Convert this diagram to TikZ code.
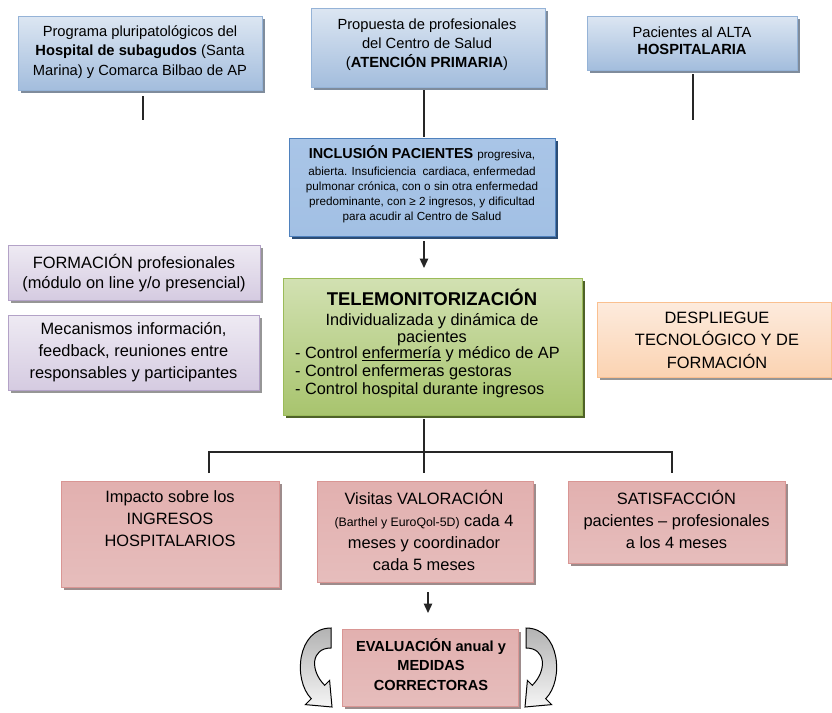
\documentclass[tikz,border=0pt]{standalone}
\usepackage{fontspec}
\setmainfont{Liberation Sans}
\usetikzlibrary{shadows,arrows.meta}
\definecolor{blueTop}{HTML}{DCE6F2}
\definecolor{blueBot}{HTML}{A3BDDD}
\definecolor{blueBorder}{HTML}{95B3D7}
\definecolor{blueShadow}{HTML}{7F8C9C}
\definecolor{inclTop}{HTML}{A9C5E7}
\definecolor{inclMid}{HTML}{6797D1}
\definecolor{inclBot}{HTML}{A2C0E4}
\definecolor{inclBorder}{HTML}{4F81BD}
\definecolor{inclShadow}{HTML}{2C4D75}
\definecolor{greenTop}{HTML}{D2E1B2}
\definecolor{greenBot}{HTML}{A8C46E}
\definecolor{greenBorder}{HTML}{9BBB59}
\definecolor{greenShadow}{HTML}{4F6228}
\definecolor{purpTop}{HTML}{EEEAF3}
\definecolor{purpBot}{HTML}{D5CBE1}
\definecolor{purpBorder}{HTML}{B3A2C7}
\definecolor{grayShadow}{HTML}{969696}
\definecolor{orTop}{HTML}{FDEBDD}
\definecolor{orBot}{HTML}{FBD3B2}
\definecolor{orBorder}{HTML}{FAC090}
\definecolor{pinkTop}{HTML}{E2B0AF}
\definecolor{pinkMid}{HTML}{F3DEDE}
\definecolor{pinkBot}{HTML}{E6BDBC}
\definecolor{pinkBorder}{HTML}{D99694}
\definecolor{pinkShadow}{HTML}{9D8C8C}
\tikzset{
  bx/.style={rectangle, inner sep=0pt, line width=1pt},
  shad/.style={drop shadow={fill=#1, opacity=1, shadow xshift=3pt, shadow yshift=-3pt}},
  bluebox/.style={bx, draw=blueBorder, top color=blueTop, bottom color=blueBot, shad=blueShadow},
  inclbox/.style={bx, draw=inclBorder, top color=inclTop, middle color=inclMid, bottom color=inclBot, shad=inclShadow},
  greenbox/.style={bx, draw=greenBorder, top color=greenTop, bottom color=greenBot, shad=greenShadow},
  purpbox/.style={bx, draw=purpBorder, top color=purpTop, bottom color=purpBot, shad=grayShadow},
  orbox/.style={bx, draw=orBorder, top color=orTop, bottom color=orBot, shad=grayShadow},
  pinkbox/.style={bx, draw=pinkBorder, top color=pinkTop, middle color=pinkMid, bottom color=pinkBot, shad=pinkShadow},
  txt/.style={align=center, inner sep=0pt, text=black},
  conn/.style={draw=black!85, line width=1.3pt},
  arr/.style={conn, -{Triangle[width=8.5pt,length=9.5pt]}},
  curvarr/.style={draw=black, line width=1pt, top color=gray!60, bottom color=gray!8},
}
\begin{document}
\begin{tikzpicture}[x=1pt,y=-1pt]
\fill[white] (0,0) rectangle (832,712);
\useasboundingbox (0,0) rectangle (832,712);

% top boxes
\node[bluebox, minimum width=244pt, minimum height=74pt] (tlbox) at (140,53) {};
\node[txt, font=\fontsize{14.7pt}{19.5pt}\selectfont] (tltxt) at (140,52)
  {Programa pluripatológicos del\\\textbf{Hospital de subagudos} (Santa\\Marina) y Comarca Bilbao de AP};
\node[bluebox, minimum width=234pt, minimum height=79pt] (tcbox) at (428,47.5) {};
\node[txt, font=\fontsize{14.7pt}{19pt}\selectfont] (tctxt) at (427,44.5)
  {Propuesta de profesionales\\del Centro de Salud\\(\textbf{ATENCIÓN PRIMARIA})};
\node[bluebox, minimum width=210pt, minimum height=54pt] (trbox) at (692,43) {};
\node[txt, font=\fontsize{14.7pt}{17pt}\selectfont] (trtxt) at (692,40.5)
  {Pacientes al ALTA\\\textbf{HOSPITALARIA}};

% inclusion
\node[inclbox, minimum width=266pt, minimum height=98pt] (incl) at (422,187) {};
\node[txt] (incltit) at (422,153)
  {\fontsize{14.4pt}{15pt}\selectfont\textbf{INCLUSIÓN PACIENTES} {\fontsize{11.7pt}{15pt}\selectfont progresiva,}};
\node[txt, font=\fontsize{11.7pt}{15pt}\selectfont] (incltxt) at (422,195)
  {abierta. Insuficiencia\ \ cardiaca, enfermedad\\pulmonar crónica, con o sin otra enfermedad\\predominante, con ≥ 2 ingresos, y dificultad\\para acudir al Centro de Salud};

% telemonitorizacion
\node[greenbox, minimum width=299pt, minimum height=137pt] (tele) at (432.5,346.5) {};
\node[txt, font=\fontsize{18.5pt}{20pt}\selectfont\bfseries] (teletit) at (432,297) {TELEMONITORIZACIÓN};
\node[txt, font=\fontsize{16.3pt}{17pt}\selectfont] (telesub) at (432,329.5)
  {Individualizada y dinámica de\\pacientes};
\node[txt, align=left, anchor=west, font=\fontsize{16.3pt}{18pt}\selectfont] (telelist) at (295,372)
  {- Control \underline{enfermería} y médico de AP\\- Control enfermeras gestoras\\- Control hospital durante ingresos};

% side boxes
\node[purpbox, minimum width=252pt, minimum height=55pt] (form) at (134,272.5) {};
\node[txt, font=\fontsize{16.4pt}{20pt}\selectfont] (formtxt) at (134,273)
  {FORMACIÓN profesionales\\(módulo on line y/o presencial)};
\node[purpbox, minimum width=251pt, minimum height=75pt] (mec) at (133.5,352.5) {};
\node[txt, font=\fontsize{16.4pt}{22pt}\selectfont] (mectxt) at (133.5,352)
  {Mecanismos información,\\feedback, reuniones entre\\responsables y participantes};
\node[orbox, minimum width=234pt, minimum height=75pt] (desp) at (714,339.5) {};
\node[txt, font=\fontsize{16.4pt}{22.5pt}\selectfont] (desptxt) at (717,340)
  {DESPLIEGUE\\TECNOLÓGICO Y DE\\FORMACIÓN};

% bottom boxes
\node[pinkbox, minimum width=218pt, minimum height=106pt] (imp) at (170,534) {};
\node[txt, font=\fontsize{16.4pt}{22pt}\selectfont] (imptxt) at (170,519)
  {Impacto sobre los\\INGRESOS\\HOSPITALARIOS};
\node[pinkbox, minimum width=216pt, minimum height=101pt] (vis) at (425,531.5) {};
\node[txt, font=\fontsize{16.4pt}{22pt}\selectfont] (vistxt) at (424,530)
  {Visitas VALORACIÓN\\{\fontsize{12.3pt}{14pt}\selectfont (Barthel y EuroQol-5D)} cada 4\\meses y coordinador\\cada 5 meses};
\node[pinkbox, minimum width=217pt, minimum height=82pt] (sat) at (676.5,522) {};
\node[txt, font=\fontsize{16.4pt}{22pt}\selectfont] (sattxt) at (676.5,519)
  {SATISFACCIÓN\\pacientes – profesionales\\a los 4 meses};
\node[pinkbox, minimum width=176pt, minimum height=77pt] (eval) at (430,667.5) {};
\node[txt, font=\fontsize{14.6pt}{19.5pt}\selectfont\bfseries] (evaltxt) at (431,664.5)
  {EVALUACIÓN anual y\\MEDIDAS\\CORRECTORAS};

% connectors
\coordinate (tlA) at (143,96);  \coordinate (tlB) at (143,120);
\coordinate (trA) at (693,74);  \coordinate (trB) at (693,120);
\coordinate (tcA) at (424,90);  \coordinate (tcB) at (424,137);
\draw[conn] (tlA) -- (tlB);
\draw[conn] (trA) -- (trB);
\draw[conn] (tcA) -- (tcB);
\coordinate (inA) at (424,241); \coordinate (inB) at (424,268);
\draw[arr] (inA) -- (inB);
\coordinate (teA) at (424,419); \coordinate (hub) at (424,452);
\coordinate (hl) at (209,452); \coordinate (hr) at (672,452);
\coordinate (impT) at (209,473); \coordinate (visT) at (424,473); \coordinate (satT) at (672,473);
\draw[conn] (teA) -- (hub);
\draw[conn] (impT) -- (hl) -- (hr) -- (satT);
\draw[conn] (hub) -- (visT);
\coordinate (viA) at (428,592); \coordinate (viB) at (428,613);
\draw[arr] (viA) -- (viB);

% curved arrows
\path[curvarr] (331,628) .. controls (297,628) and (292.6,680) .. (311.3,698.7)
  -- (305.4,704.6) -- (332,707) -- (329.6,680.4) -- (324.7,685.3)
  .. controls (309.7,670.3) and (311,648) .. (331,648) -- cycle;
\begin{scope}[shift={(857,0)}, xscale=-1]
\path[curvarr] (331,628) .. controls (297,628) and (292.6,680) .. (311.3,698.7)
  -- (305.4,704.6) -- (332,707) -- (329.6,680.4) -- (324.7,685.3)
  .. controls (309.7,670.3) and (311,648) .. (331,648) -- cycle;
\end{scope}
\end{tikzpicture}
\end{document}
